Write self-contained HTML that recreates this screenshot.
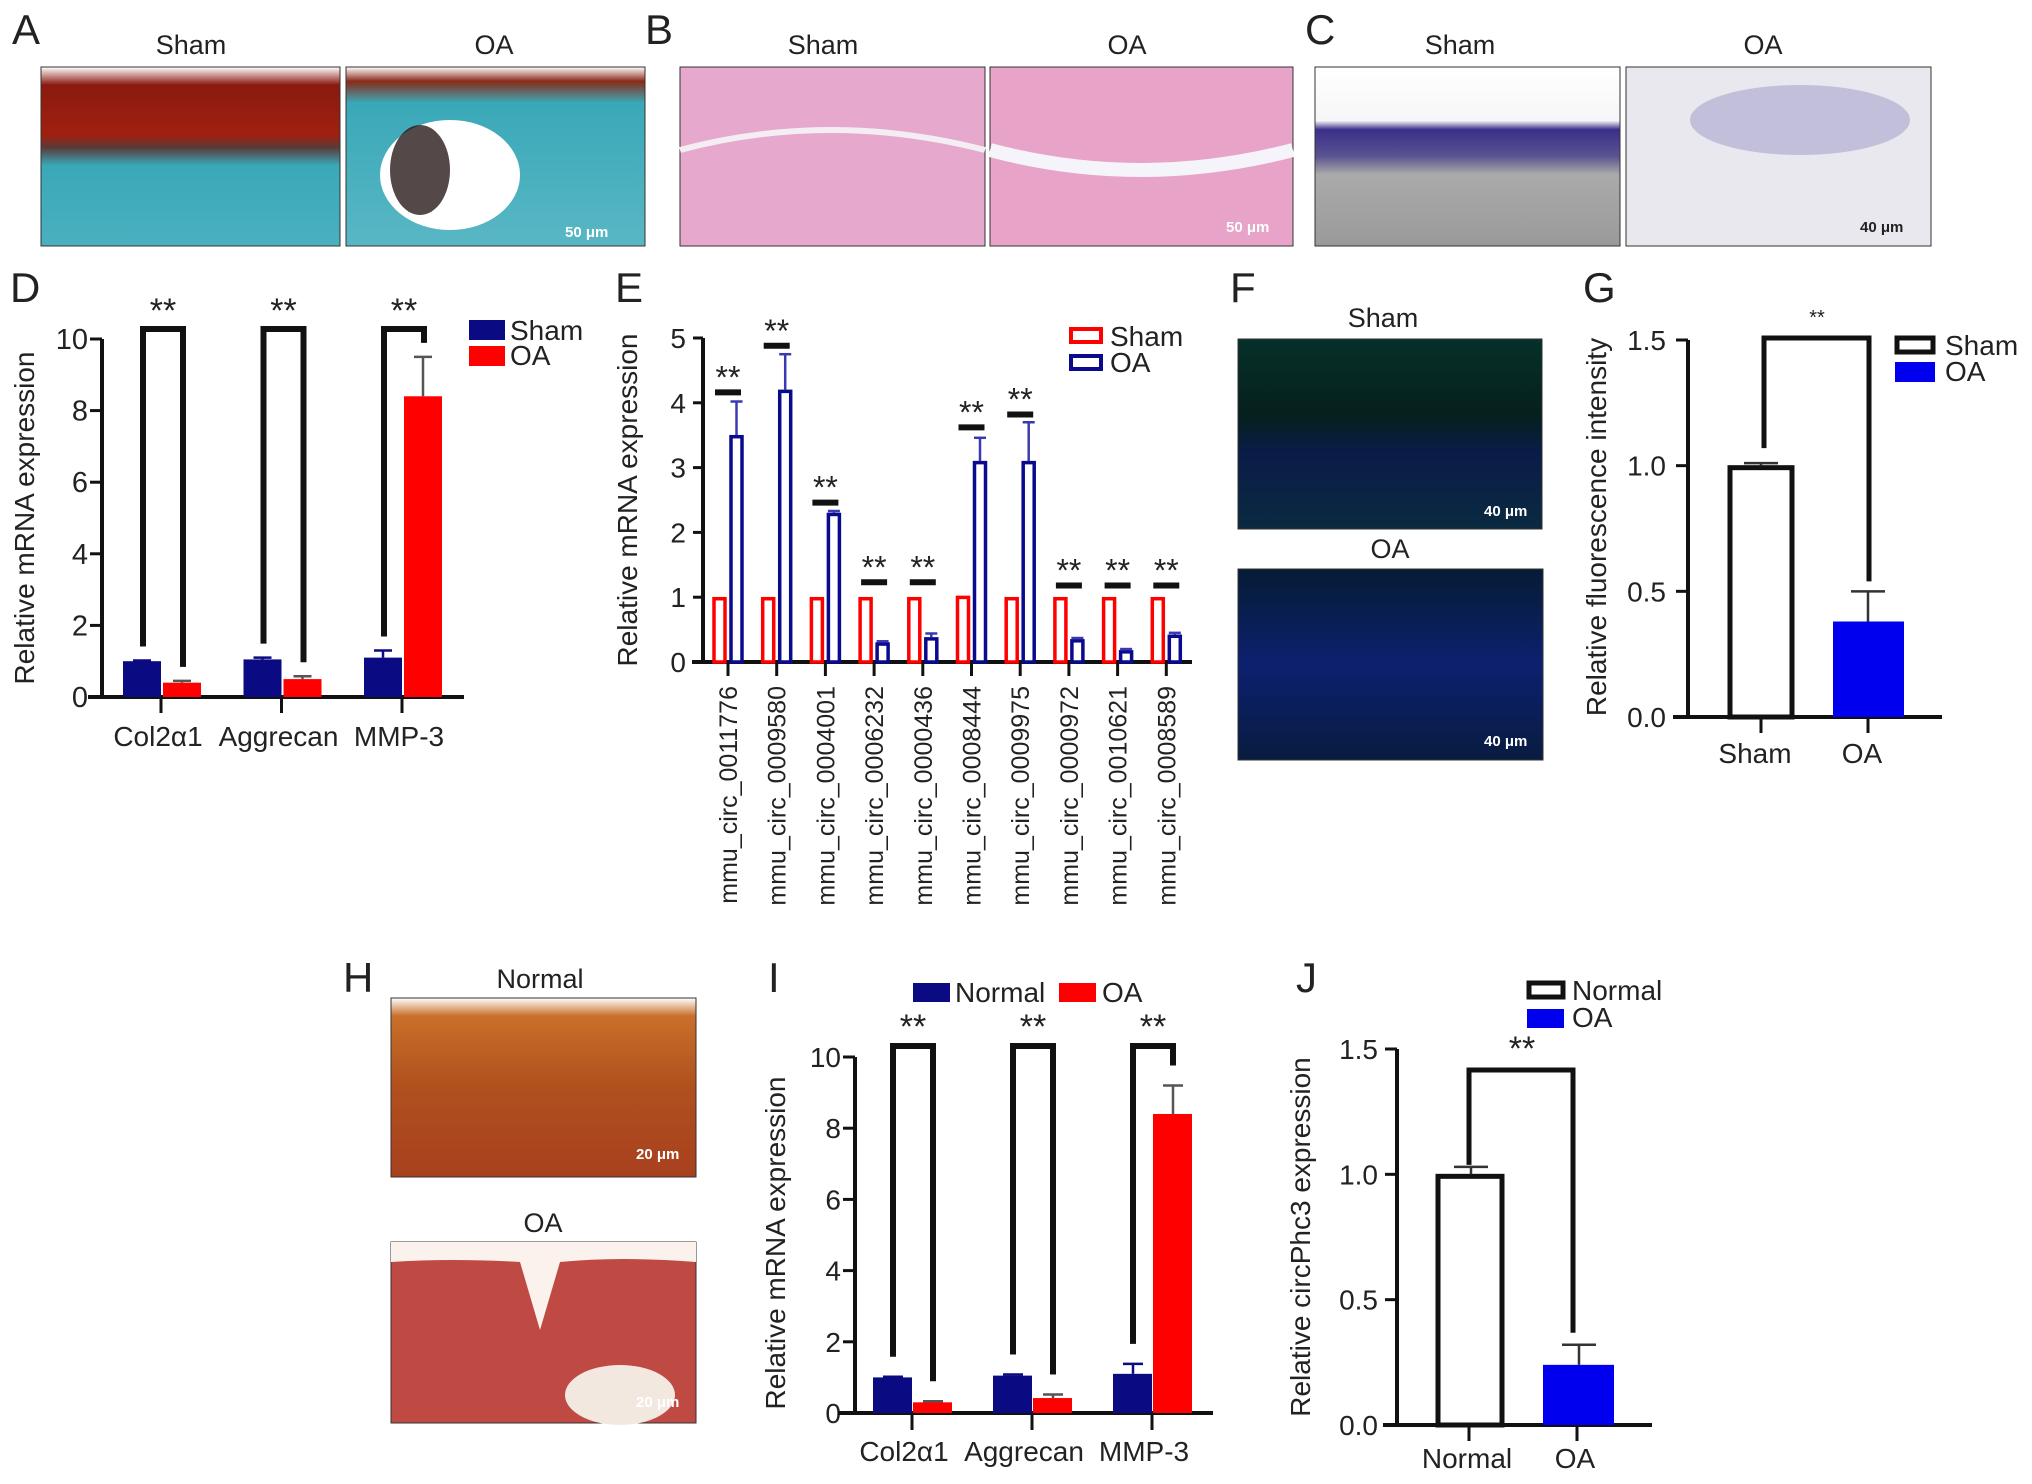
<!DOCTYPE html>
<html><head><meta charset="utf-8"><style>
html,body{margin:0;padding:0;background:#fff}
svg{display:block}
text{font-family:"Liberation Sans",Arial,sans-serif;fill:#222}
text.sb{fill:#fff}
</style></head><body>
<svg id="fig" width="2032" height="1484" viewBox="0 0 2032 1484" xmlns="http://www.w3.org/2000/svg">
<defs>
<linearGradient id="gA1" x1="0" y1="0" x2="0" y2="1"><stop offset="0" stop-color="#fff"/><stop offset="0.1" stop-color="#8a1a10"/><stop offset="0.38" stop-color="#a0200f"/><stop offset="0.45" stop-color="#5a3a38"/><stop offset="0.55" stop-color="#3aa8b8"/><stop offset="1" stop-color="#4ab0c0"/></linearGradient>
<linearGradient id="gA2" x1="0" y1="0" x2="0" y2="1"><stop offset="0" stop-color="#fff"/><stop offset="0.08" stop-color="#8a2a18"/><stop offset="0.2" stop-color="#3aa8b8"/><stop offset="1" stop-color="#59b7c4"/></linearGradient>
<linearGradient id="gC1" x1="0" y1="0" x2="0" y2="1"><stop offset="0" stop-color="#fff"/><stop offset="0.3" stop-color="#f6f6f8"/><stop offset="0.35" stop-color="#3a2e8a"/><stop offset="0.5" stop-color="#5a5490"/><stop offset="0.6" stop-color="#aaa"/><stop offset="1" stop-color="#9a9a9a"/></linearGradient>
<linearGradient id="gF" x1="0" y1="0" x2="0" y2="1"><stop offset="0" stop-color="#06302a"/><stop offset="0.4" stop-color="#05201d"/><stop offset="0.6" stop-color="#0a1c48"/><stop offset="1" stop-color="#0a2a40"/></linearGradient>
<linearGradient id="gF2" x1="0" y1="0" x2="0" y2="1"><stop offset="0" stop-color="#061c34"/><stop offset="0.5" stop-color="#0c2070"/><stop offset="1" stop-color="#081c40"/></linearGradient>
<linearGradient id="gH1" x1="0" y1="0" x2="0" y2="1"><stop offset="0" stop-color="#fff"/><stop offset="0.1" stop-color="#c8702a"/><stop offset="0.5" stop-color="#b0501e"/><stop offset="1" stop-color="#a8401e"/></linearGradient>
</defs>
<g id="photos">
<rect x="41" y="67" width="299" height="179" fill="url(#gA1)" stroke="#333"/>
<rect x="346" y="67" width="299" height="179" fill="url(#gA2)" stroke="#333"/>
<ellipse cx="450" cy="175" rx="70" ry="55" fill="#fff"/>
<ellipse cx="420" cy="170" rx="30" ry="45" fill="#2a1a1a" opacity="0.8"/>
<rect x="680" y="67" width="305" height="179" fill="#e6a8cc" stroke="#333"/>
<rect x="990" y="67" width="303" height="179" fill="#e8a4c8" stroke="#333"/>
<path d="M680 150 Q830 110 985 150" stroke="#f4eef4" stroke-width="6" fill="none"/>
<path d="M990 150 Q1140 190 1293 150" stroke="#f4f4fa" stroke-width="14" fill="none"/>
<rect x="1315" y="67" width="305" height="179" fill="url(#gC1)" stroke="#333"/>
<rect x="1626" y="67" width="305" height="179" fill="#e8e8ee" stroke="#333"/>
<ellipse cx="1800" cy="120" rx="110" ry="35" fill="#b8b4d4" opacity="0.8"/>
<rect x="1238" y="339" width="304" height="190" fill="url(#gF)" stroke="#333"/>
<rect x="1238" y="569" width="305" height="191" fill="url(#gF2)" stroke="#333"/>
<rect x="391" y="998" width="305" height="179" fill="url(#gH1)" stroke="#333"/>
<rect x="391" y="1242" width="305" height="181" fill="#bf4a44" stroke="#333"/>
<path d="M391 1242 H696 V1262 Q620 1256 560 1262 L540 1330 L520 1262 Q450 1258 391 1262Z" fill="#fbf2ee"/>
<ellipse cx="620" cy="1395" rx="55" ry="30" fill="#f3e8e0"/>
<g font-size="15" font-weight="bold">
<text class="sb" x="565" y="237">50 μm</text>
<text class="sb" x="1226" y="232">50 μm</text>
<text x="1860" y="232">40 μm</text>
<text class="sb" x="1484" y="516">40 μm</text>
<text class="sb" x="1484" y="746">40 μm</text>
<text class="sb" x="636" y="1159">20 μm</text>
<text class="sb" x="636" y="1407">20 μm</text>
</g>
</g>
<g font-size="42">
<text x="12" y="44">A</text>
<text x="645" y="44">B</text>
<text x="1305" y="44">C</text>
<text x="10" y="302">D</text>
<text x="615" y="302">E</text>
<text x="1230" y="302">F</text>
<text x="1583" y="302">G</text>
<text x="343" y="992">H</text>
<text x="768" y="992">I</text>
<text x="1296" y="992">J</text>
</g>
<g font-size="27" text-anchor="middle">
<text x="191" y="54">Sham</text>
<text x="494" y="54">OA</text>
<text x="823" y="54">Sham</text>
<text x="1127" y="54">OA</text>
<text x="1460" y="54">Sham</text>
<text x="1763" y="54">OA</text>
<text x="1383" y="327">Sham</text>
<text x="1390" y="558">OA</text>
<text x="540" y="988">Normal</text>
<text x="543" y="1232">OA</text>
</g>
</svg>
<script>
// ---- data ----
const dCategories = ["Col2\u03b11","Aggrecan","MMP-3"];
const dSham = [1.0, 1.05, 1.1];
const dShamErr = [0.02, 0.05, 0.2];
const dOA = [0.4, 0.5, 8.4];
const dOAErr = [0.05, 0.08, 1.1];
const dTicks = [0,2,4,6,8,10];

const eCategories = ["mmu_circ_0011776","mmu_circ_0009580","mmu_circ_0004001","mmu_circ_0006232","mmu_circ_0000436","mmu_circ_0008444","mmu_circ_0009975","mmu_circ_0000972","mmu_circ_0010621","mmu_circ_0008589"];
const eSham = [1,1,1,1,1,1.02,1,1,1,1];
const eOA = [3.5,4.2,2.3,0.3,0.38,3.1,3.1,0.35,0.18,0.42];
const eOAErr = [0.52,0.55,0.03,0.02,0.06,0.36,0.6,0.02,0.02,0.03];
const eSigLevel = [4.16,4.88,2.46,1.23,1.23,3.62,3.82,1.18,1.18,1.18];
const eTicks = [0,1,2,3,4,5];

const gCategories = ["Sham","OA"];
const gValues = [1.0, 0.38];
const gErr = [0.01, 0.12];
const gTicks = [0,0.5,1.0,1.5];

const iCategories = ["Col2\u03b11","Aggrecan","MMP-3"];
const iNormal = [1.0, 1.05, 1.1];
const iNormalErr = [0.02, 0.03, 0.28];
const iOA = [0.3, 0.42, 8.4];
const iOAErr = [0.03, 0.1, 0.8];
const iTicks = [0,2,4,6,8,10];

const jCategories = ["Normal","OA"];
const jValues = [1.0, 0.24];
const jErr = [0.03, 0.08];
const jTicks = [0,0.5,1.0,1.5];

const svg = document.getElementById('fig');
const NS = "http://www.w3.org/2000/svg";
function mk(tag, attrs, parent){
  const e = document.createElementNS(NS, tag);
  for (const k in attrs) e.setAttribute(k, attrs[k]);
  (parent||svg).appendChild(e);
  return e;
}
function line(g,x1,y1,x2,y2,w,c,name){
  const l = mk('line',{x1:x1,y1:y1,x2:x2,y2:y2,stroke:c||'#111','stroke-width':w},g);
  
  
  return l;
}
function txt(g,x,y,s,size,anchor,name,rot){
  const t = mk('text',{x:x,y:y,'font-size':size,'text-anchor':anchor||'start'},g);
  if(rot) t.setAttribute('transform','rotate(-90 '+x+' '+y+')');
  t.textContent = s;
  
  
  return t;
}
function rect(g,x,y,w,h,fill,stroke,sw,name){
  const r = mk('rect',{x:x,y:y,width:w,height:Math.max(0,h),fill:fill,stroke:stroke||'none','stroke-width':sw||0},g);
  
  
  return r;
}
function errBar(g,x,yv,ye,cap,c,name){
  line(g,x,yv,x,ye,2.5,c,name);
  line(g,x-cap,ye,x+cap,ye,2.5,c,name+'-cap');
}
function bracket(g,d,w){
  const p = mk('path',{d:d,fill:'none',stroke:'#111','stroke-width':w},g);
  
  
}

// ---------- Chart D ----------
(function(){
  const g = mk('g',{});
  
  
  const y = v => 697 - v/10*(697-339);
  line(g,102,698,102,339,4,'#111','y-axis-line');
  dTicks.forEach(t=>{ line(g,90,y(t),102,y(t),3,'#111','y-tick'); txt(g,88,y(t)+10,String(t),29,'end','y-tick-label'); });
  line(g,88,697,464,697,4,'#111','x-axis-line');
  const cx = i => 161 + i*120.5;
  dCategories.forEach((c,i)=>{
    const x = cx(i);
    rect(g,x-38,y(dSham[i]),38,697-y(dSham[i]),'#0a0a82',null,0,'bar-sham-'+i);
    rect(g,x+2,y(dOA[i]),38,697-y(dOA[i]),'#ff0000',null,0,'bar-oa-'+i);
    errBar(g,x-19,y(dSham[i]),y(dSham[i]+dShamErr[i]),9,'#0a0a82','error-bar-sham');
    errBar(g,x+21,y(dOA[i]),y(dOA[i]+dOAErr[i]),9,'#555','error-bar-oa');
    line(g,x,697,x,713,3,'#111','x-tick');
    txt(g,x-3,746,c,28,'middle','x-tick-label');
    const lx = x-18, rx = x+22, top = 329;
    const lb = y(dSham[i]+dShamErr[i])-14, rb = y(dOA[i]+dOAErr[i])-14;
    bracket(g,'M'+lx+' '+lb+' V'+top+' H'+rx+' V'+rb,6);
    txt(g,(lx+rx)/2,322,'**',34,'middle','significance-stars');
  });
  txt(g,34,518,'Relative mRNA expression',28,'middle','y-axis-title',true);
  rect(g,469,320,36,20,'#0a0a82',null,0,'legend-swatch-sham');
  rect(g,469,346,36,20,'#ff0000',null,0,'legend-swatch-oa');
  txt(g,510,340,'Sham',28,'start','legend-label-sham');
  txt(g,510,365,'OA',28,'start','legend-label-oa');
})();

// ---------- Chart E ----------
(function(){
  const g = mk('g',{});
  
  
  const y = v => 662 - v/5*(662-338);
  line(g,703,663,703,338,4,'#111','y-axis-line');
  eTicks.forEach(t=>{ line(g,693,y(t),703,y(t),3,'#111','y-tick'); txt(g,686,y(t)+10,String(t),28,'end','y-tick-label'); });
  line(g,692,662,1192,662,4,'#111','x-axis-line');
  const cx = i => 728 + i*48.7;
  eCategories.forEach((c,i)=>{
    const x = cx(i);
    rect(g,x-14,y(eSham[i])+1.5,11,662-y(eSham[i])-1.5,'#fff','#ff0000',3.5,'bar-sham-'+i);
    rect(g,x+3,y(eOA[i])+1.5,11,662-y(eOA[i])-1.5,'#fff','#0a0a8c',3.5,'bar-oa-'+i);
    errBar(g,x+8.5,y(eOA[i]),y(eOA[i]+eOAErr[i]),6,'#3a3ab0','error-bar-oa');
    line(g,x,662,x,676,3,'#111','x-tick');
    txt(g,x+9,686,c,25,'end','x-tick-label',true);
    line(g,x-13,y(eSigLevel[i]),x+13,y(eSigLevel[i]),6,'#111','significance-line');
    txt(g,x,y(eSigLevel[i])-4,'**',32,'middle','significance-stars');
  });
  txt(g,637,500,'Relative mRNA expression',28,'middle','y-axis-title',true);
  rect(g,1071,329,30,13,'#fff','#ff0000',4,'legend-swatch-sham');
  rect(g,1071,356,30,13,'#fff','#0a0a8c',4,'legend-swatch-oa');
  txt(g,1110,346,'Sham',28,'start','legend-label-sham');
  txt(g,1110,372,'OA',28,'start','legend-label-oa');
})();

// ---------- Chart G ----------
(function(){
  const g = mk('g',{});
  
  
  const y = v => 717 - v/1.5*(717-340);
  line(g,1688,718,1688,340,4,'#111','y-axis-line');
  gTicks.forEach(t=>{ line(g,1676,y(t),1688,y(t),3,'#111','y-tick'); txt(g,1666,y(t)+10,t.toFixed(1),28,'end','y-tick-label'); });
  line(g,1673,717,1942,717,4,'#111','x-axis-line');
  const cx = i => 1761 + i*107;
  gCategories.forEach((c,i)=>{
    const x = cx(i);
    if(i===0) rect(g,x-31,y(gValues[i])+2,62,717-y(gValues[i])-2,'#fff','#111',5,'bar-sham');
    else rect(g,x-35,y(gValues[i]),71,717-y(gValues[i]),'#0000ee',null,0,'bar-oa');
    errBar(g,x,y(gValues[i]),y(gValues[i]+gErr[i]),17,'#333','error-bar');
    line(g,x,717,x,733,3,'#111','x-tick');
    txt(g,x-6,763,c,28,'middle','x-tick-label');
  });
  bracket(g,'M'+(cx(0)+3)+' '+(y(gValues[0]+gErr[0])-15)+' V338 H'+(cx(1)+1)+' V'+(y(gValues[1]+gErr[1])-10),5);
  txt(g,1817,324,'**',20,'middle','significance-stars');
  txt(g,1606,527,'Relative fluorescence intensity',28,'middle','y-axis-title',true);
  rect(g,1897,338,36,14,'#fff','#111',5,'legend-swatch-sham');
  rect(g,1895,362,40,20,'#0000ee',null,0,'legend-swatch-oa');
  txt(g,1945,355,'Sham',28,'start','legend-label-sham');
  txt(g,1945,381,'OA',28,'start','legend-label-oa');
})();

// ---------- Chart I ----------
(function(){
  const g = mk('g',{});
  
  
  const y = v => 1413 - v/10*(1413-1057);
  line(g,855,1414,855,1057,4,'#111','y-axis-line');
  iTicks.forEach(t=>{ line(g,843,y(t),855,y(t),3,'#111','y-tick'); txt(g,841,y(t)+10,String(t),28,'end','y-tick-label'); });
  line(g,838,1413,1213,1413,4,'#111','x-axis-line');
  const cx = i => 912 + i*120;
  iCategories.forEach((c,i)=>{
    const x = cx(i);
    rect(g,x-39,y(iNormal[i]),39,1413-y(iNormal[i]),'#0a0a82',null,0,'bar-normal-'+i);
    rect(g,x+1,y(iOA[i]),39,1413-y(iOA[i]),'#ff0000',null,0,'bar-oa-'+i);
    errBar(g,x-19,y(iNormal[i]),y(iNormal[i]+iNormalErr[i]),10,'#0a0a82','error-bar-normal');
    errBar(g,x+21,y(iOA[i]),y(iOA[i]+iOAErr[i]),10,'#555','error-bar-oa');
    line(g,x,1413,x,1430,3,'#111','x-tick');
    txt(g,x-8,1461,c,28,'middle','x-tick-label');
    const lx = x-19, rx = x+21, top = 1046;
    const lb = y(iNormal[i]+iNormalErr[i])-20, rb = y(iOA[i]+iOAErr[i])-20;
    bracket(g,'M'+lx+' '+lb+' V'+top+' H'+rx+' V'+rb,6);
    txt(g,(lx+rx)/2,1038,'**',34,'middle','significance-stars');
  });
  txt(g,785,1243,'Relative mRNA expression',28,'middle','y-axis-title',true);
  rect(g,913,983,37,19,'#0a0a82',null,0,'legend-swatch-normal');
  rect(g,1059,983,37,19,'#ff0000',null,0,'legend-swatch-oa');
  txt(g,955,1002,'Normal',28,'start','legend-label-normal');
  txt(g,1102,1002,'OA',28,'start','legend-label-oa');
})();

// ---------- Chart J ----------
(function(){
  const g = mk('g',{});
  
  
  const y = v => 1425 - v/1.5*(1425-1049);
  line(g,1397,1426,1397,1049,4,'#111','y-axis-line');
  jTicks.forEach(t=>{ line(g,1385,y(t),1397,y(t),3,'#111','y-tick'); txt(g,1378,y(t)+10,t.toFixed(1),28,'end','y-tick-label'); });
  line(g,1383,1425,1652,1425,4,'#111','x-axis-line');
  const cx = i => 1469 + i*108;
  jCategories.forEach((c,i)=>{
    const x = cx(i);
    if(i===0) rect(g,x-31,y(jValues[i])+2,64,1425-y(jValues[i])-2,'#fff','#111',5,'bar-normal');
    else rect(g,x-34,y(jValues[i]),71,1425-y(jValues[i]),'#0000ee',null,0,'bar-oa');
    errBar(g,x+2,y(jValues[i]),y(jValues[i]+jErr[i]),17,'#333','error-bar');
    line(g,x,1425,x,1441,3,'#111','x-tick');
    txt(g,x-2,1468,c,28,'middle','x-tick-label');
  });
  bracket(g,'M'+cx(0)+' '+(y(jValues[0]+jErr[0])-2)+' V1070 H'+(cx(1)-4)+' V'+(y(jValues[1]+jErr[1])-12),5);
  txt(g,1522,1060,'**',34,'middle','significance-stars');
  txt(g,1310,1237,'Relative circPhc3 expression',28,'middle','y-axis-title',true);
  rect(g,1529,983,34,14,'#fff','#111',5,'legend-swatch-normal');
  rect(g,1527,1009,37,19,'#0000ee',null,0,'legend-swatch-oa');
  txt(g,1572,1000,'Normal',28,'start','legend-label-normal');
  txt(g,1572,1027,'OA',28,'start','legend-label-oa');
})();
</script>
</body></html>
